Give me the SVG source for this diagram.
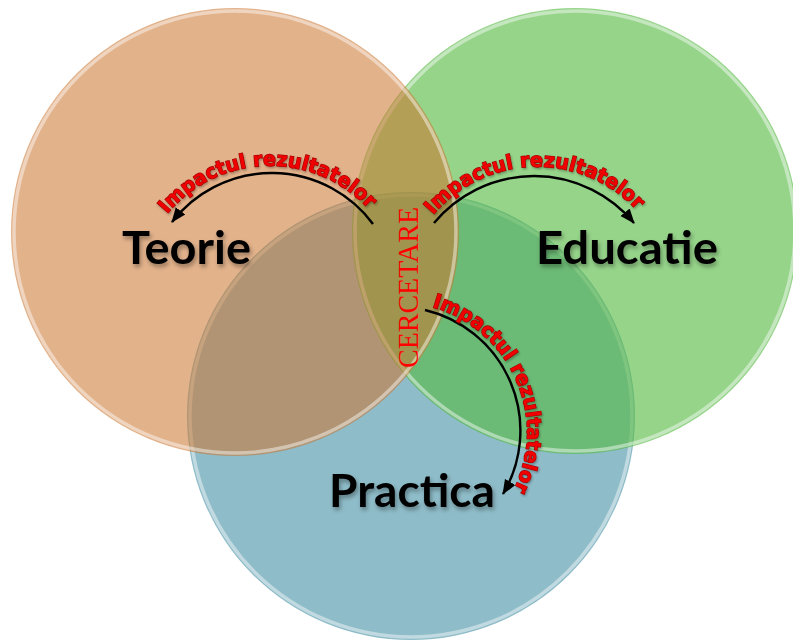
<svg xmlns="http://www.w3.org/2000/svg" width="793" height="642" viewBox="0 0 793 642">
  <style>
    .rim { fill: none; stroke: #ffffff; stroke-opacity: 0.45; stroke-width: 3.5; }
    .label { font-family: "Lato", "Open Sans", "Noto Sans", sans-serif; font-weight: 700; font-size: 46px; fill: #000000; }
    .impact { font-family: "DejaVu Sans", "Liberation Sans", sans-serif; font-weight: 700; font-size: 20px; fill: #f00000; stroke: #a00000; stroke-width: 1.3; paint-order: stroke; }
    .arrow { fill: none; stroke: #000000; stroke-width: 2.4; }
    .research { font-family: "Liberation Serif", "Times New Roman", serif; font-size: 29px; fill: #ff0000; }
  </style>
  <defs>
    <filter id="shadow" x="-10%" y="-20%" width="130%" height="160%">
      <feDropShadow dx="1.5" dy="3" stdDeviation="2" flood-color="#000000" flood-opacity="0.35"/>
    </filter>
    <filter id="softshadow" x="-10%" y="-20%" width="130%" height="160%">
      <feDropShadow dx="1" dy="1.5" stdDeviation="1" flood-color="#000000" flood-opacity="0.3"/>
    </filter>
    <marker id="head" markerUnits="userSpaceOnUse" markerWidth="16" markerHeight="14" refX="14" refY="7" orient="auto">
      <path d="M0,1 L15,7 L0,13 z" fill="#000000"/>
    </marker>
    <path id="tp1" d="M167,214 A134,134 0 0 1 373,214"/>
    <path id="tp2" d="M433,215 A136,136 0 0 1 641,215"/>
    <path id="tp3" d="M432,307 A130,130 0 0 1 513,491"/>
  </defs>

  <rect width="793" height="642" fill="#ffffff"/>

  <g id="node-practica">
    <circle cx="411" cy="416" r="224" fill="#438fa3" fill-opacity="0.6"/>
    <circle cx="411" cy="416" r="221" class="rim"/>
    <text class="label" x="329" y="507" textLength="166" lengthAdjust="spacingAndGlyphs" filter="url(#shadow)">Practica</text>
  </g>

  <g id="node-educatie">
    <circle cx="575" cy="231" r="223" fill="#55b942" fill-opacity="0.62"/>
    <circle cx="575" cy="231" r="220" class="rim"/>
    <text class="label" x="536" y="264" textLength="182" lengthAdjust="spacingAndGlyphs" filter="url(#shadow)">Educatie</text>
  </g>

  <g id="node-teorie">
    <circle cx="235" cy="232" r="224" fill="#cb7630" fill-opacity="0.56"/>
    <circle cx="235" cy="232" r="221" class="rim"/>
    <text class="label" x="122" y="264" textLength="129" lengthAdjust="spacingAndGlyphs" filter="url(#shadow)">Teorie</text>
  </g>

  <g id="node-cercetare">
    <text class="research" transform="translate(418,287.5) rotate(-90)" text-anchor="middle" textLength="161" lengthAdjust="spacingAndGlyphs">CERCETARE</text>
  </g>

  <g id="connectors">
    <path class="arrow" d="M373,224 A126,126 0 0 0 172,222" marker-end="url(#head)"/>
    <path class="arrow" d="M434,223 A130,130 0 0 1 634,223" marker-end="url(#head)"/>
    <path class="arrow" d="M425,310 A124,124 0 0 1 503,494" marker-end="url(#head)"/>
    <text class="impact" filter="url(#softshadow)"><textPath href="#tp1" textLength="228" lengthAdjust="spacingAndGlyphs">Impactul rezultatelor</textPath></text>
    <text class="impact" filter="url(#softshadow)"><textPath href="#tp2" textLength="230" lengthAdjust="spacingAndGlyphs">Impactul rezultatelor</textPath></text>
    <text class="impact" filter="url(#softshadow)"><textPath href="#tp3" textLength="228" lengthAdjust="spacingAndGlyphs">Impactul rezultatelor</textPath></text>
  </g>
</svg>
